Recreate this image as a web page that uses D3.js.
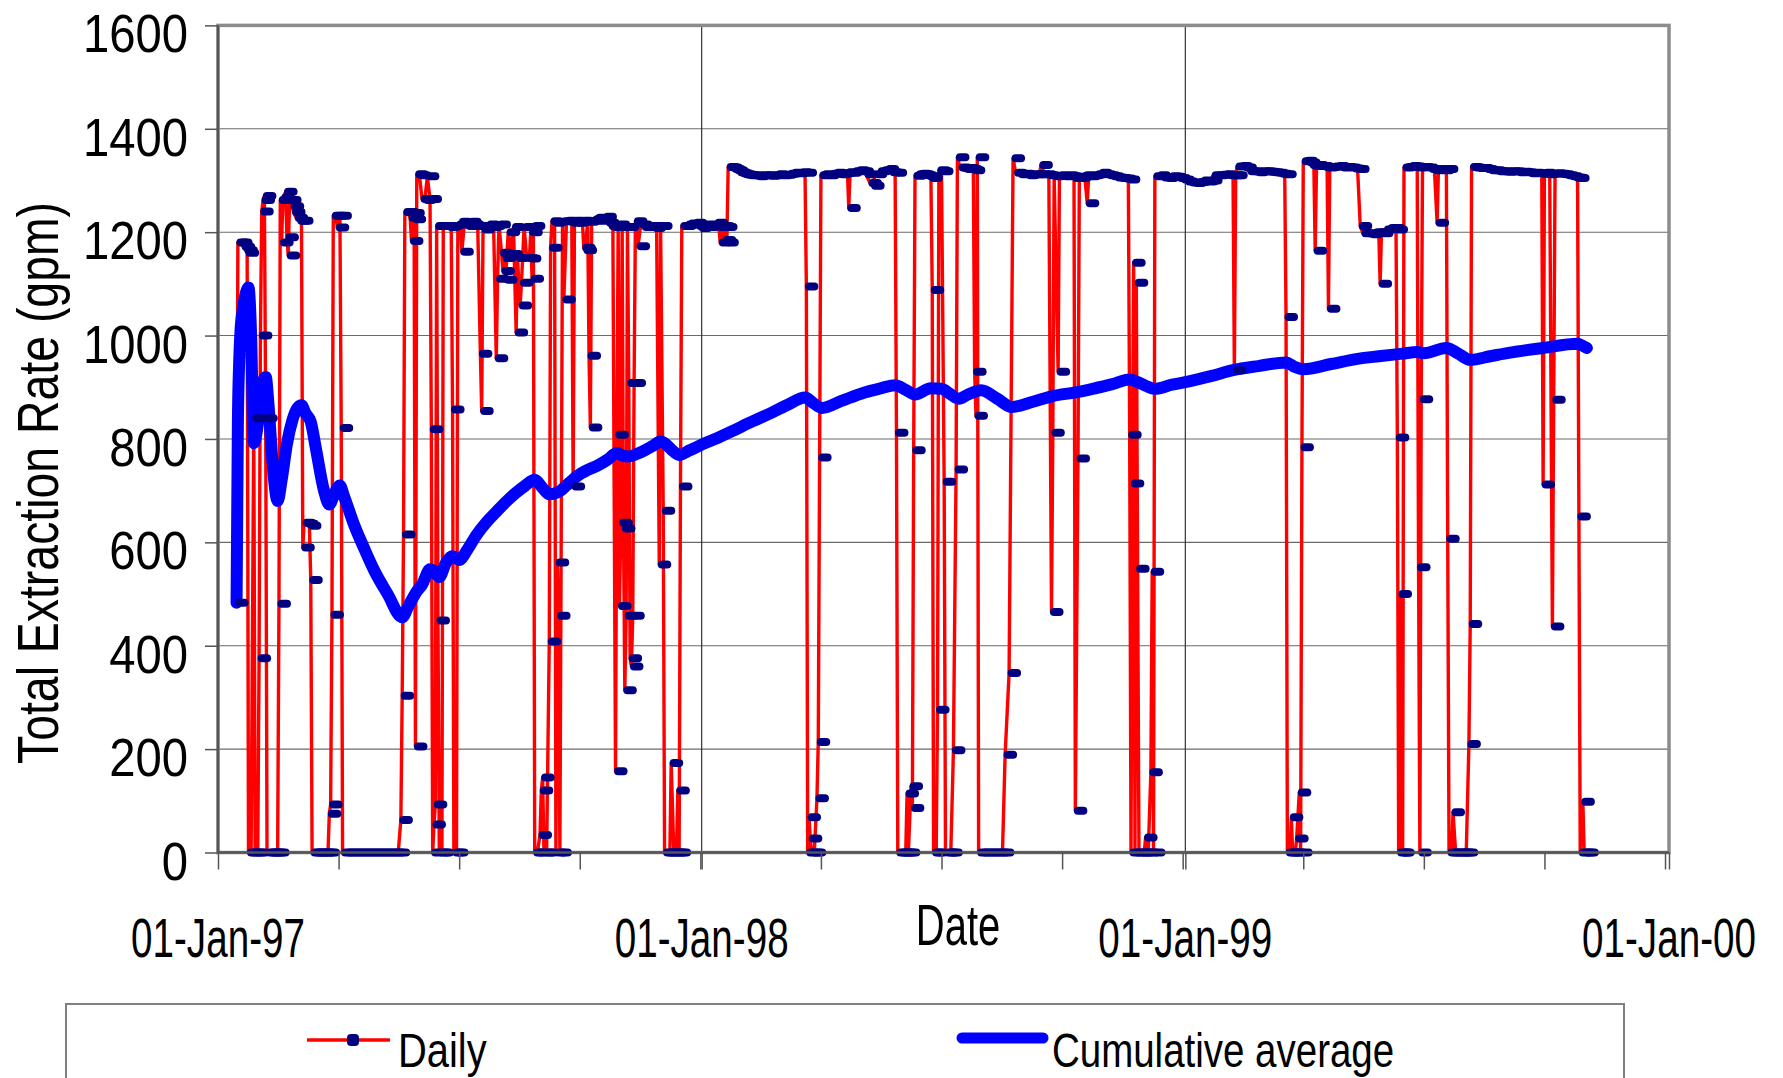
<!DOCTYPE html>
<html>
<head>
<meta charset="utf-8">
<script src="https://d3js.org/d3.v7.min.js"></script>
<style>
  body { margin: 0; background: #fff; }
  text { font-family: "Liberation Sans", Arial, sans-serif; fill: #000; }
</style>
</head>
<body>
<svg width="1783" height="1078"></svg>
<script>
// [days since 01-Jan-97, gpm]
var daily1997 = [
  [14,483],[15,1180],[17,1180],[19,1172],[21,1165],[22,1160],[23,0],[25,0],[27,840],[28,0],[30,0],
  [31,376],[32,1000],[33,1240],[34,1262],[35,1270],[36,840],[37,0],[39,0],[41,0],[43,0],[45,0],
  [46,481],[47,1262],[48,1180],[49,1267],[51,1278],[52,1190],[53,1155],[54,1262],[56,1250],[57,1239],
  [59,1228],[61,1222],[63,1222],[64,590],[65,638],[67,636],[69,632],[70,527],[71,0],[73,0],[75,0],
  [77,0],[79,0],[81,0],[83,0],[84,75],[85,93],[86,460],[87,1232],[89,1232],[90,1209],[92,1232],
  [93,821],[94,0],[97,0],[100,0],[103,0],[106,0],[109,0],[112,0],[115,0],[118,0],[121,0],[124,0],
  [127,0],[130,0],[133,0],[136,0],[138,63],[139,303],[140,615],[141,1239],[143,1239],[145,1228],
  [146,1183],[147,1237],[148,1225],[149,205],[150,1312],[152,1310],[154,1264],[156,1262],[158,1308],
  [160,1264],[161,819],[162,0],[163,54],[164,93],[165,1212],[166,449],[167,0],[169,0],[170,1212],
  [172,1212],[174,1210],[176,1212],[177,857],[178,0],[180,0],[181,1215],[183,1220],[184,1162],
  [186,1218],[188,1212],[190,1220],[192,1215],[194,1212],[196,1212],[198,965],[199,854],[200,1205],
  [202,1212],[204,1215],[206,1210],[208,1212],[210,956],[211,1110],[212,1215],[214,1160],[215,1125],
  [216,1150],[217,1108],[219,1200],[221,1158],[223,1210],[225,1006],[226,1150],[228,1058],[229,1102],
  [231,1210],[233,1150],[235,1149],[236,1200],[237,1110],[238,1212],[239,0],[241,0],[243,34],
  [244,120],[245,145],[246,0],[248,0],[250,408],[251,1170],[252,1221],[254,1218],[255,0],[256,561],
  [257,458],[258,0],[260,1221],[261,1070],[263,1222],[265,1220],[267,1218],[268,708],[269,1222],
  [271,1218],[273,1220],[275,1222],[276,1170],[277,1165],[279,1220],[280,961],[281,822],[282,1222],
  [284,1225],[286,1228],[288,1222],[290,1225],[292,1230],[294,1218],[296,1212],[298,1210],[300,157],
  [301,808],[302,1215],[303,477],[304,638],[305,1210],[306,627],[307,314],[308,458],[309,1210],
  [310,908],[311,376],[312,360],[313,458],[314,908],[315,1221],[317,1173],[319,1215],[321,1210],
  [323,1212],[325,1210],[327,1212],[329,1208],[331,1212],[333,557],[334,1212],[336,661],[337,0],
  [339,0],[341,0],[342,173],[344,0],[346,0],[347,120],[348,0],[349,708],[350,1212],[352,1212],
  [354,1215],[356,1217],[358,1215],[360,1218],[362,1212],[364,1208]
];
var daily1998 = [
  [366,1215],[368,1212],[370,1210],[372,1215],[374,1212],[376,1218],[378,1210],[379,1180],[381,1212],
  [382,1185],[383,1210],[384,1180],[385,1326],[387,1325],[389,1322],[391,1320],[393,1316],[395,1314],
  [397,1312],[399,1311],[401,1310],[404,1310],[407,1308],[410,1310],[413,1310],[416,1309],[419,1310],
  [422,1312],[425,1310],[428,1311],[431,1313],[434,1315],[437,1314],[440,1316],[443,1315],[444,1095],
  [445,0],[446,68],[447,27],[448,0],[450,0],[452,105],[453,214],[454,764],[455,1310],[457,1312],
  [460,1310],[463,1313],[466,1315],[469,1312],[472,1314],[475,1316],[476,1247],[477,1315],[480,1318],
  [483,1320],[486,1318],[489,1312],[492,1295],[494,1290],[496,1312],[499,1318],[502,1320],[505,1322],
  [508,1316],[511,1315],[512,812],[513,0],[515,0],[517,0],[519,0],[520,114],[521,0],[523,128],
  [524,86],[525,778],[526,1309],[528,1312],[530,1313],[532,1312],[534,1310],[536,1308],[538,1305],
  [539,1088],[540,0],[542,0],[543,276],[544,1320],[546,1318],[548,717],[549,0],[551,0],[553,0],
  [555,198],[557,741],[558,1345],[560,1325],[562,1324],[564,1322],[566,1324],[568,1322],[570,1320],
  [571,930],[572,845],[573,1345],[574,0],[577,0],[580,0],[583,0],[586,0],[589,0],[592,0],[594,189],
  [597,347],[600,1343],[602,1315],[605,1312],[608,1313],[611,1310],[614,1312],[617,1312],[620,1312],
  [621,1330],[624,1312],[627,1310],[629,465],[630,812],[631,1308],[634,930],[635,1310],[638,1308],
  [641,1310],[644,1308],[646,1305],[647,81],[649,762],[650,1305],[652,1308],[654,1310],[656,1256],
  [657,1308],[660,1310],[663,1312],[666,1315],[669,1312],[672,1310],[675,1308],[678,1306],[681,1305],
  [684,1304],[687,1302],[688,808],[689,0],[690,714],[691,1141],[692,0],[693,1102],[694,549],[695,0],
  [697,0],[699,0],[700,29],[702,0],[704,155],[705,543],[706,0],[707,1308],[710,1310],[713,1306],
  [716,1305],[719,1308],[722,1307],[725,1305],[728,1302]
];
var daily1999 = [
  [731,1298],[734,1296],[737,1295],[740,1297],[743,1300],[746,1298],[749,1300],[751,1310],[754,1310],
  [757,1311],[760,1312],[763,1310],[766,1310],[767,933],[768,1310],[769,1327],[772,1328],[775,1325],
  [778,1318],[781,1318],[784,1316],[787,1318],[790,1318],[793,1317],[796,1316],[799,1315],[802,1313],
  [805,1312],[806,1036],[807,0],[809,0],[810,68],[811,0],[813,0],[814,27],[816,116],[817,0],[818,784],
  [819,1337],[821,1338],[823,1335],[825,1330],[827,1328],[828,1164],[829,1330],[831,1328],[833,1328],
  [835,1326],[837,1325],[838,1052],[839,1326],[842,1327],[845,1328],[848,1325],[851,1326],[854,1325],
  [857,1323],[860,1322],[862,1212],[864,1198],[867,1198],[870,1196],[873,1200],[876,1200],[877,1100],
  [878,1198],[881,1205],[884,1208],[887,1208],[889,1205],[890,803],[891,0],[892,500],[893,0],[894,0],
  [895,1325],[897,1326],[900,1328],[903,1327],[905,1325],[906,552],[907,0],[908,877],[909,1326],
  [912,1325],[915,1322],[918,1320],[920,1218],[921,1322],[924,1320],[927,1322],[928,607],[929,0],
  [931,0],[932,78],[934,0],[936,0],[938,0],[940,0],[942,0],[944,210],[945,442],[946,1326],[948,1325],
  [951,1324],[954,1324],[957,1322],[960,1320],[963,1320],[966,1318],[969,1318],[972,1317],[975,1318],
  [978,1318],[981,1316],[984,1317],[987,1316],[990,1314],[993,1315],[996,1314],[999,1313],[1000,712],
  [1001,1315],[1003,1312],[1005,1313],[1007,437],[1008,876],[1009,1314],[1012,1313],[1015,1312],
  [1018,1310],[1021,1308],[1024,1306],[1026,1305],[1027,650],[1028,0],[1030,98],[1031,0],[1033,0]
];
var cumulative = [
  [14,483],[15,830],[16,950],[17,1010],[19,1055],[21,1082],[23,1093],[25,1000],[27,792],[29,810],
  [31,850],[33,900],[36,920],[38,870],[41,760],[45,680],[48,720],[52,790],[56,835],[60,860],[63,865],
  [66,850],[70,833],[74,780],[80,700],[84,673],[88,695],[92,710],[95,690],[103,632],[110,590],
  [118,545],[128,500],[139,455],[144,478],[150,505],[154,518],[160,548],[163,545],[167,533],[172,560],
  [177,573],[182,566],[188,585],[195,614],[203,640],[210,659],[218,680],[225,696],[232,710],[239,721],
  [245,705],[250,693],[258,699],[265,715],[271,728],[279,740],[286,748],[294,760],[301,773],[305,768],
  [310,766],[316,771],[322,778],[329,788],[334,795],[337,792],[342,780],[348,769],[356,778],[365,789],
  [377,802],[388,815],[400,830],[418,851],[430,866],[443,880],[449,870],[456,860],[470,873],[488,890],
  [500,898],[511,904],[519,895],[526,886],[538,898],[546,897],[552,888],[559,878],[566,886],[576,894],
  [588,878],[599,862],[615,872],[630,883],[647,890],[660,897],[675,906],[688,915],[694,910],[700,903],
  [707,897],[720,905],[730,910],[750,922],[766,933],[785,941],[806,948],[812,940],[819,935],[840,945],
  [860,955],[876,960],[894,965],[905,968],[910,966],[927,976],[936,965],[945,953],[960,960],[975,967],
  [1000,976],[1026,984],[1030,980],[1033,976]
];
var yTicks = [0, 200, 400, 600, 800, 1000, 1200, 1400, 1600];
var tickDays = [0, 91, 182, 273, 364, 365, 455, 546, 637, 728, 730, 819, 910, 1001, 1092, 1095];
var majorDays = [0, 365, 730, 1095];
var xLabels = ["01-Jan-97", "01-Jan-98", "01-Jan-99", "01-Jan-00"];

var start = Date.UTC(1997, 0, 1);
function dayDate(d) { return d3.utcDay.offset(new Date(start), d); }

var svg = d3.select("svg");
svg.append("rect").attr("width", 1783).attr("height", 1078).attr("fill", "#fff");

var x = d3.scaleUtc().domain([dayDate(0), dayDate(1095)]).range([218, 1669]);
var y = d3.scaleLinear().domain([0, 1600]).range([852.5, 25.4]);

// horizontal grid
svg.append("g").selectAll("line")
  .data(yTicks.slice(1, -1))
  .join("line")
    .attr("x1", 218).attr("x2", 1669)
    .attr("y1", d => y(d)).attr("y2", d => y(d))
    .attr("stroke", "#6a6a6a").attr("stroke-width", 1.1);

// vertical grid at year boundaries
svg.append("g").selectAll("line")
  .data(majorDays.slice(1, -1))
  .join("line")
    .attr("x1", d => x(dayDate(d))).attr("x2", d => x(dayDate(d)))
    .attr("y1", y(1600)).attr("y2", y(0))
    .attr("stroke", "#333").attr("stroke-width", 1.2);

// plot frame
svg.append("rect")
  .attr("x", 218).attr("y", y(1600))
  .attr("width", 1451).attr("height", y(0) - y(1600))
  .attr("fill", "none").attr("stroke", "#8c8c8c").attr("stroke-width", 3.5);

var redLine = d3.line()
  .x(d => x(dayDate(d[0])))
  .y(d => y(d[1]));

var daily = daily1997.concat(daily1998, daily1999);

svg.append("path")
  .datum(daily)
  .attr("d", redLine)
  .attr("fill", "none")
  .attr("stroke", "#ff0000")
  .attr("stroke-width", 3.4)
  .attr("stroke-linejoin", "round");

var blueLine = d3.line()
  .curve(d3.curveMonotoneX)
  .x(d => x(dayDate(d[0])))
  .y(d => y(d[1]));

svg.append("path")
  .datum(cumulative)
  .attr("d", blueLine)
  .attr("fill", "none")
  .attr("stroke", "#0000ff")
  .attr("stroke-width", 12)
  .attr("stroke-linejoin", "round")
  .attr("stroke-linecap", "round");

// dash markers
svg.append("g").selectAll("rect")
  .data(daily)
  .join("rect")
    .attr("x", d => x(dayDate(d[0])) - 1.5)
    .attr("y", d => y(d[1]) - 4)
    .attr("width", 13.5).attr("height", 8).attr("rx", 4)
    .attr("fill", "#000080");

// axes
var xAxis = d3.axisBottom(x)
  .tickValues(tickDays.map(dayDate))
  .tickSize(17)
  .tickFormat("");
var gx = svg.append("g").attr("transform", "translate(0," + y(0) + ")").call(xAxis);
gx.select(".domain").remove();
gx.selectAll(".tick line").attr("stroke", "#555").attr("stroke-width", 1.5);

var yAxis = d3.axisLeft(y)
  .tickValues(yTicks)
  .tickSize(13)
  .tickFormat("");
var gy = svg.append("g").attr("transform", "translate(218,0)").call(yAxis);
gy.select(".domain").remove();
gy.selectAll(".tick line").attr("stroke", "#555").attr("stroke-width", 1.5);

svg.append("line").attr("x1", 218).attr("x2", 218).attr("y1", y(1600)).attr("y2", y(0))
  .attr("stroke", "#555").attr("stroke-width", 2.5);
svg.append("line").attr("x1", 218).attr("x2", 1669).attr("y1", y(0)).attr("y2", y(0))
  .attr("stroke", "#555").attr("stroke-width", 2.5);

// tick labels
svg.append("g").selectAll("text")
  .data(yTicks)
  .join("text")
    .attr("transform", d => "translate(188," + (y(d) + 27) + ") scale(0.875,1)")
    .attr("text-anchor", "end")
    .attr("font-size", 54)
    .text(d => d);

svg.append("g").selectAll("text")
  .data(xLabels)
  .join("text")
    .attr("transform", (d, i) => "translate(" + x(dayDate(majorDays[i])) + ",957) scale(0.69,1)")
    .attr("text-anchor", "middle")
    .attr("font-size", 56)
    .text(d => d);

// axis titles
svg.append("text")
  .attr("transform", "translate(958,945) scale(0.69,1)")
  .attr("text-anchor", "middle")
  .attr("font-size", 58)
  .text("Date");

svg.append("text")
  .attr("transform", "translate(58,483) rotate(-90) scale(0.8,1)")
  .attr("text-anchor", "middle")
  .attr("font-size", 58)
  .text("Total Extraction Rate (gpm)");

// legend
var legend = svg.append("g");
legend.append("rect")
  .attr("x", 66).attr("y", 1004).attr("width", 1558).attr("height", 100)
  .attr("fill", "#fff").attr("stroke", "#808080").attr("stroke-width", 2);
legend.append("line")
  .attr("x1", 307).attr("x2", 390).attr("y1", 1040).attr("y2", 1040)
  .attr("stroke", "#ff0000").attr("stroke-width", 3.4);
legend.append("rect")
  .attr("x", 347).attr("y", 1034).attr("width", 12).attr("height", 12).attr("rx", 4)
  .attr("fill", "#000080");
legend.append("text")
  .attr("transform", "translate(398,1067) scale(0.84,1)")
  .attr("font-size", 47.5)
  .text("Daily");
legend.append("line")
  .attr("x1", 962).attr("x2", 1043).attr("y1", 1038).attr("y2", 1038)
  .attr("stroke", "#0000ff").attr("stroke-width", 11).attr("stroke-linecap", "round");
legend.append("text")
  .attr("transform", "translate(1052,1067) scale(0.81,1)")
  .attr("font-size", 47.5)
  .text("Cumulative average");
</script>
</body>
</html>
